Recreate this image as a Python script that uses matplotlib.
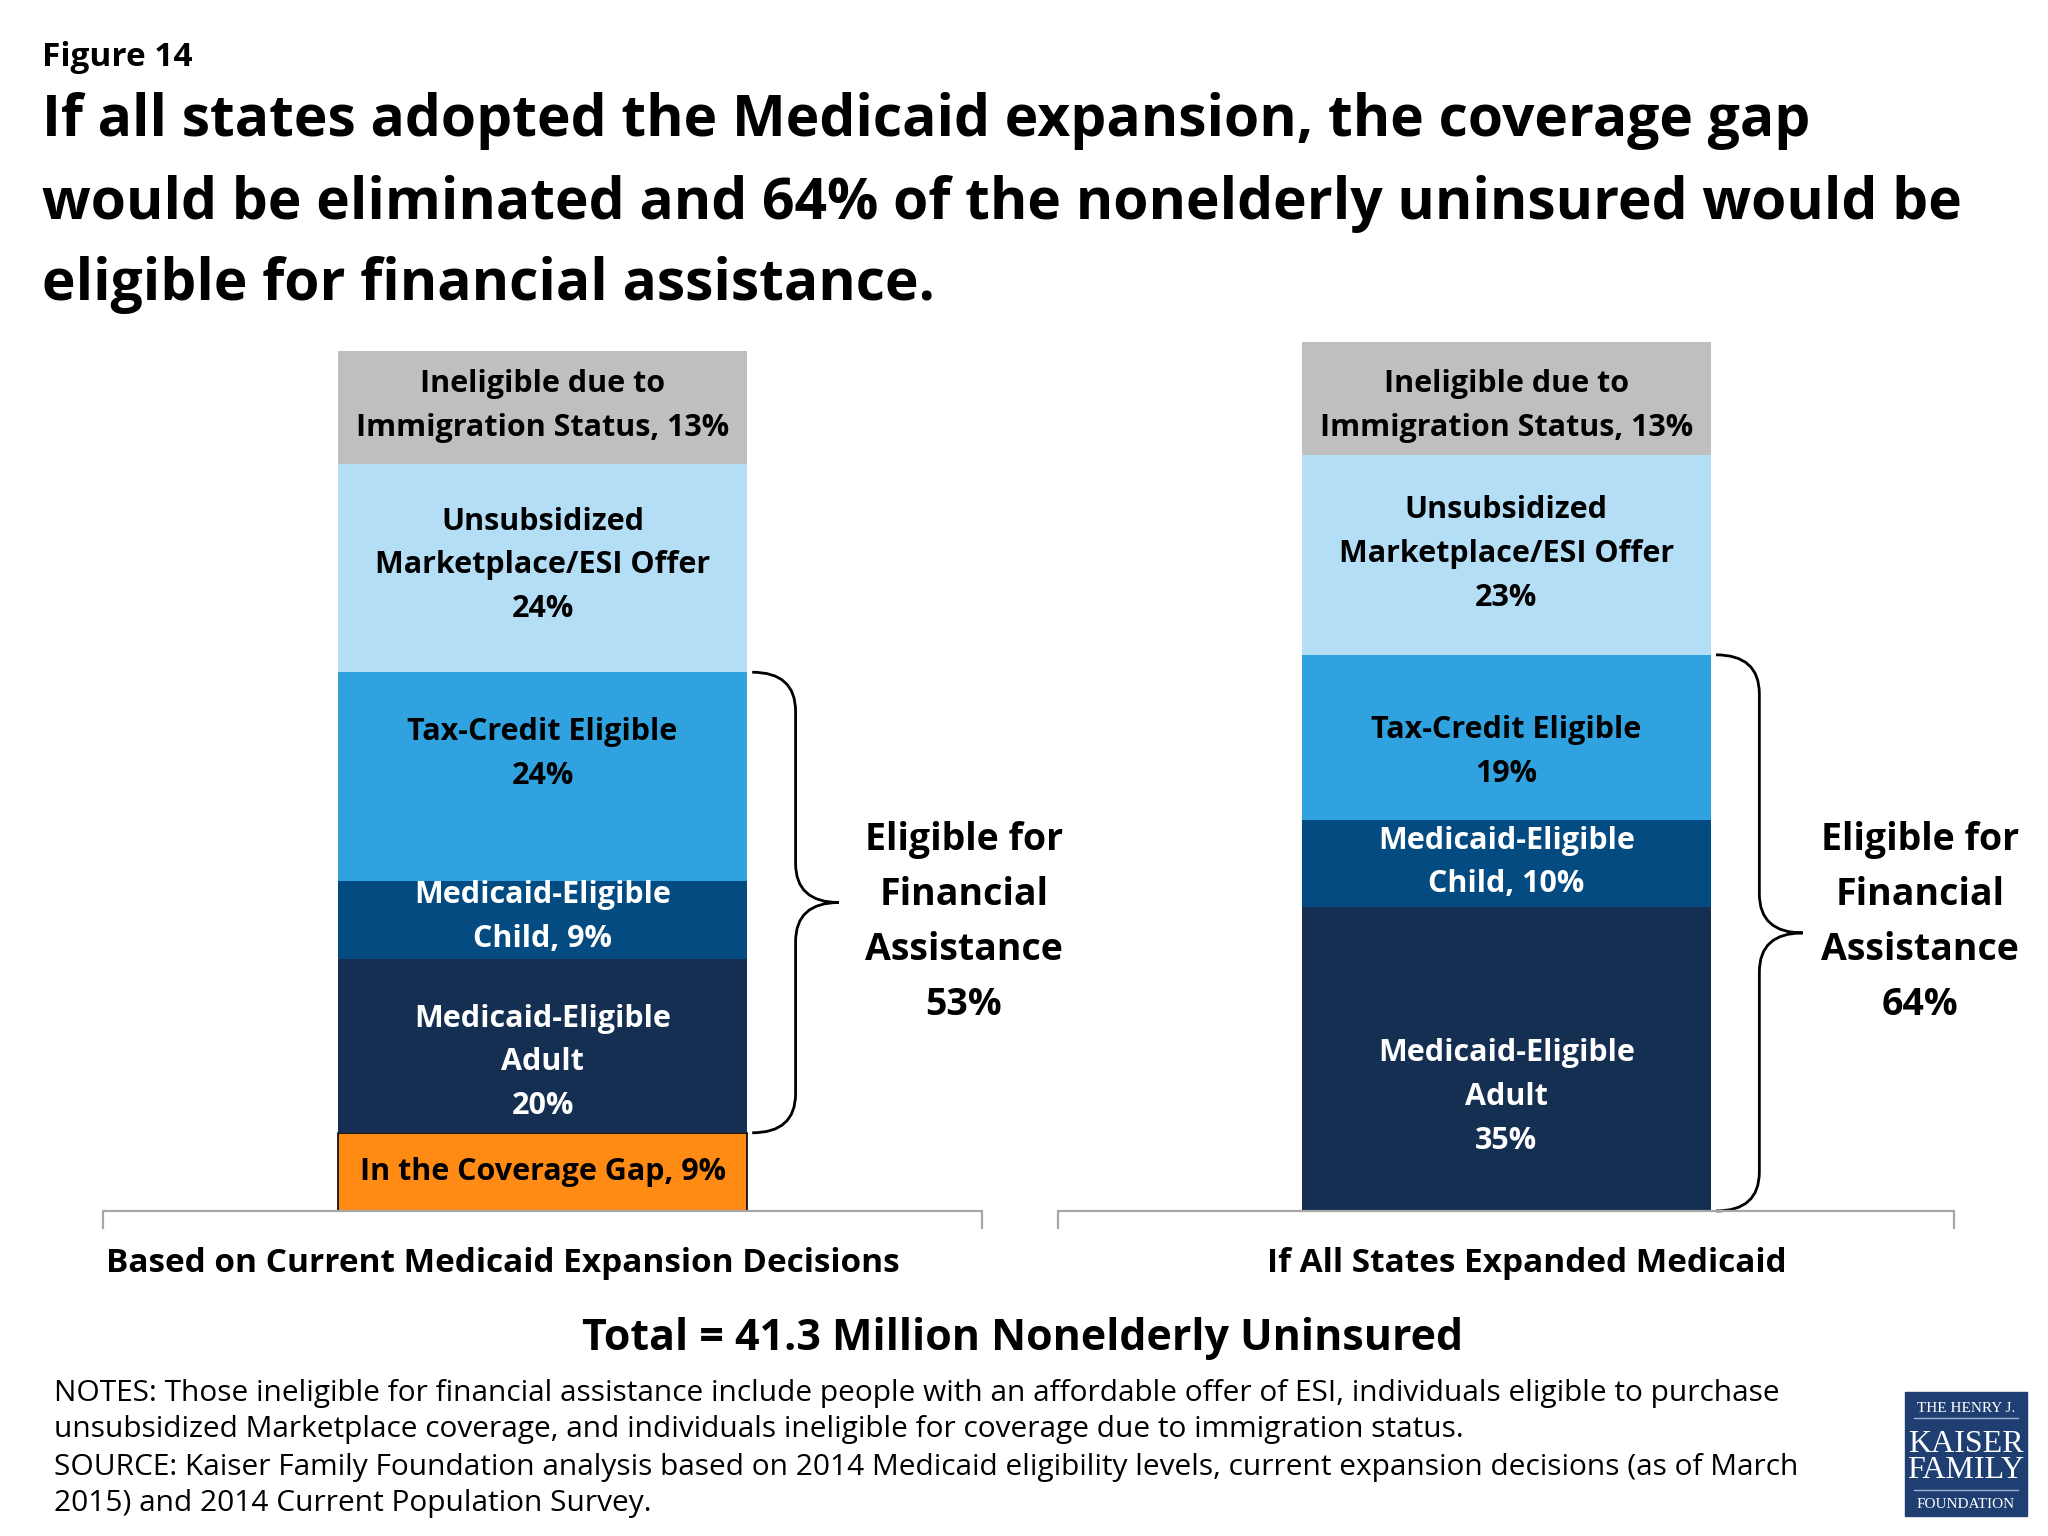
import matplotlib
matplotlib.use("Agg")
import matplotlib.pyplot as plt
from matplotlib.path import Path
from matplotlib.patches import PathPatch, Rectangle

# ---- data ----
groups = ["Based on Current Medicaid Expansion Decisions", "If All States Expanded Medicaid"]
segments = ["In the Coverage Gap", "Medicaid-Eligible Adult", "Medicaid-Eligible Child",
            "Tax-Credit Eligible", "Unsubsidized Marketplace/ESI Offer",
            "Ineligible due to Immigration Status"]
current_vals = [9, 20, 9, 24, 24, 13]
expanded_vals = [0, 35, 10, 19, 23, 13]
current_labels = ["In the Coverage Gap, 9%", "Medicaid-Eligible\nAdult\n20%", "Medicaid-Eligible\nChild, 9%",
                  "Tax-Credit Eligible\n24%", "Unsubsidized\nMarketplace/ESI Offer\n24%",
                  "Ineligible due to\nImmigration Status, 13%"]
expanded_labels = ["", "Medicaid-Eligible\nAdult\n35%", "Medicaid-Eligible\nChild, 10%",
                   "Tax-Credit Eligible\n19%", "Unsubsidized\nMarketplace/ESI Offer\n23%",
                   "Ineligible due to\nImmigration Status, 13%"]
eligible_share = [53, 64]
total_text = "Total = 41.3 Million Nonelderly Uninsured"

# ---- style ----
colors = ["#FF8A14", "#142F52", "#034B80", "#31A2E0", "#B3DEF5", "#BFBFBF"]
text_colors = ["black", "white", "white", "black", "black", "black"]
label_dy = [[0, -1.9, 0.3, 2.6, 0.3, 0.1], [0, -4.4, 0.1, -1.7, 0.1, -0.9]]
bracket_span = [(-0.456, 0.456), (0.535, 1.464)]
FONT = "Open Sans"

W, H = 2048, 1536
fig = plt.figure(figsize=(W / 100, H / 100), dpi=100)
fig.patch.set_facecolor("white")


def fx(x):
    return x / W


def fy(y):
    return 1 - y / H


ax = fig.add_axes([0, fy(1211), 1, fy(342) - fy(1211)])
ax.set_xlim(-0.563, 1.562)
ax.set_ylim(0, 100)
ax.axis("off")

width = 0.425
for gi, (vals, labels) in enumerate([(current_vals, current_labels), (expanded_vals, expanded_labels)]):
    bottom = 0
    for si, v in enumerate(vals):
        if v > 0:
            ec = "black" if si == 0 else "none"
            ax.bar(gi, v, width=width, bottom=bottom, color=colors[si],
                   edgecolor=ec, linewidth=1.2 if si == 0 else 0)
            ax.text(gi, bottom + v / 2 + label_dy[gi][si], labels[si], ha="center", va="center",
                    color=text_colors[si], fontsize=22, fontweight="bold", family=FONT,
                    linespacing=1.6)
        bottom += v

    # axis bracket under each group
    xl, xr = bracket_span[gi]
    ax.plot([xl, xl, xr, xr], [-2, 0, 0, -2], color="#A6A6A6", lw=1.6, clip_on=False)

    # curly brace around the financial-assistance segments
    lo = vals[0]
    hi = sum(vals[:4])
    mid = (lo + hi) / 2
    x0 = gi + width / 2 + 0.005
    x1 = gi + width / 2 + 0.05
    x2 = gi + width / 2 + 0.095
    r = 4.5
    verts = [(x0, hi), (x1, hi), (x1, hi - r),
             (x1, mid + r),
             (x1, mid), (x2, mid),
             (x1, mid), (x1, mid - r),
             (x1, lo + r),
             (x1, lo), (x0, lo)]
    codes = [Path.MOVETO, Path.CURVE3, Path.CURVE3,
             Path.LINETO,
             Path.CURVE3, Path.CURVE3,
             Path.CURVE3, Path.CURVE3,
             Path.LINETO,
             Path.CURVE3, Path.CURVE3]
    ax.add_patch(PathPatch(Path(verts, codes), fill=False, lw=2, ec="black", clip_on=False))

    tx = [0.437, 1.429][gi]
    ax.text(tx, 33.2, "Eligible for\nFinancial\nAssistance\n%d%%" % eligible_share[gi],
            ha="center", va="center", fontsize=27, fontweight="bold", family=FONT,
            linespacing=1.58)

# group labels
fig.text(fx(503), fy(1263), groups[0], ha="center", va="center", fontsize=24,
         fontweight="bold", family=FONT)
fig.text(fx(1527), fy(1263), groups[1], ha="center", va="center", fontsize=24,
         fontweight="bold", family=FONT)
fig.text(fx(1023), fy(1339), total_text, ha="center", va="center", fontsize=31,
         fontweight="bold", family=FONT)

# titles
fig.text(fx(42), fy(57), "Figure 14", ha="left", va="center", fontsize=24,
         fontweight="bold", family=FONT)
title_lines = ["If all states adopted the Medicaid expansion, the coverage gap",
               "would be eliminated and 64% of the nonelderly uninsured would be",
               "eligible for financial assistance."]
for i, line in enumerate(title_lines):
    fig.text(fx(42), fy([121, 204, 285][i]), line, ha="left", va="center", fontsize=41,
             fontweight="bold", family=FONT)

notes = ["NOTES: Those ineligible for financial assistance include people with an affordable offer of ESI, individuals eligible to purchase",
         "unsubsidized Marketplace coverage, and individuals ineligible for coverage due to immigration status.",
         "SOURCE: Kaiser Family Foundation analysis based on 2014 Medicaid eligibility levels, current expansion decisions (as of March",
         "2015) and 2014 Current Population Survey."]
for i, line in enumerate(notes):
    fig.text(fx(54), fy([1394, 1430, 1467, 1503][i]), line, ha="left", va="center",
             fontsize=21.5, family=FONT)

# logo
navy = "#1F3F73"
fig.patches.append(Rectangle((fx(1905), fy(1516)), fx(122), fy(1392) - fy(1516),
                             transform=fig.transFigure, color=navy, zorder=1))
for txt, y, s in [("THE HENRY J.", 1408, 11), ("KAISER", 1445, 23), ("FAMILY", 1470, 23),
                  ("FOUNDATION", 1504, 11)]:
    fig.text(fx(1966), fy(y), txt, ha="center", va="center", fontsize=s, color="white",
             family="Liberation Serif", zorder=2)
for y in [1418, 1490]:
    fig.lines.append(plt.Line2D([fx(1914), fx(2018)], [fy(y), fy(y)], transform=fig.transFigure,
                                color="#9FB3D1", lw=1, zorder=2))

fig.savefig("out.png", dpi=100, facecolor="white")
